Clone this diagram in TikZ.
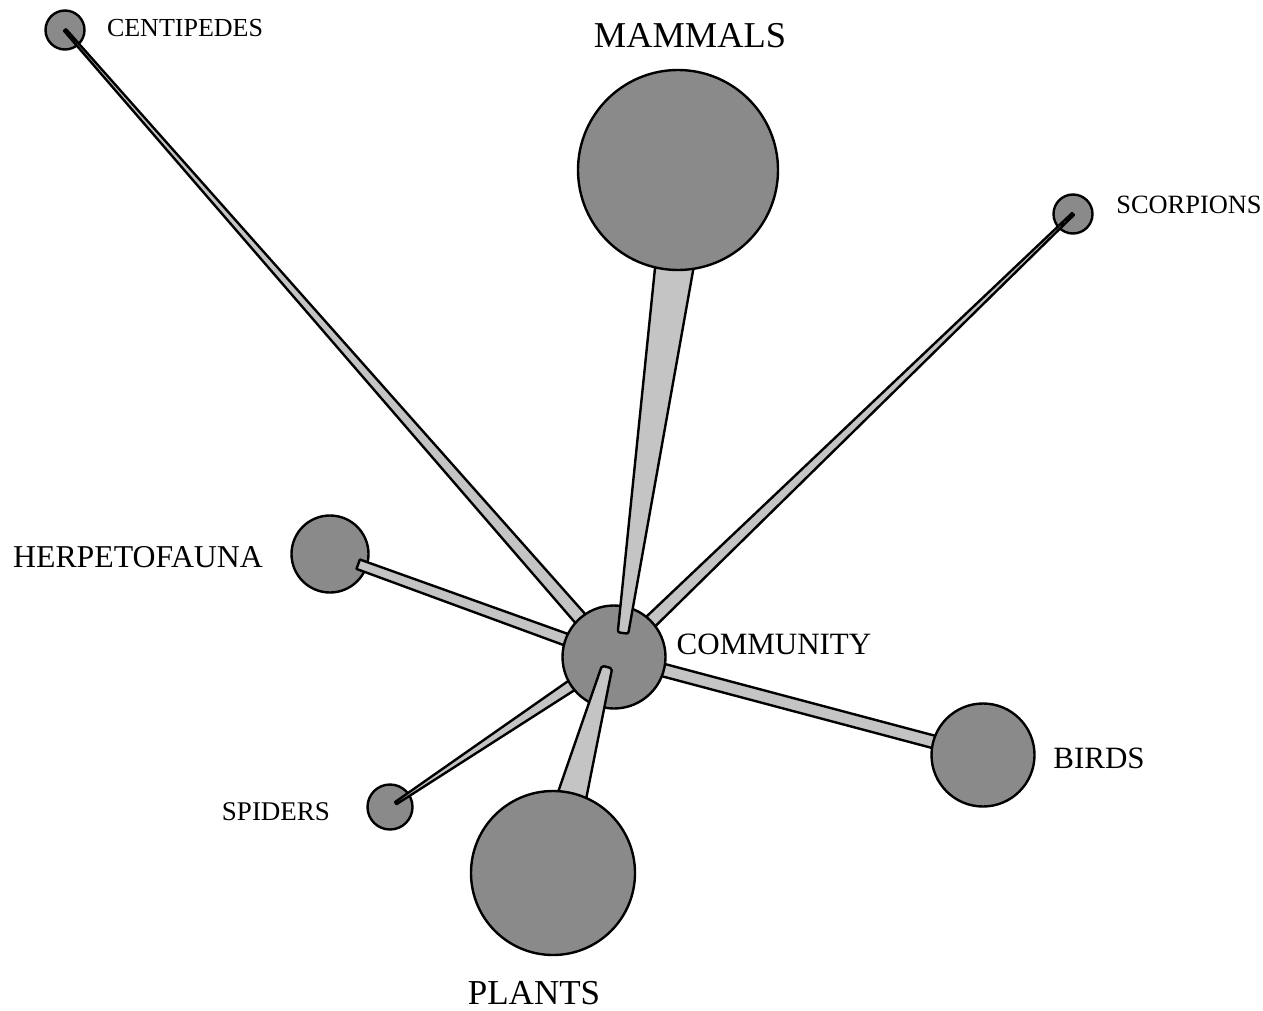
\documentclass[tikz,border=0pt]{standalone}
\usepackage{fontspec}
\setmainfont{Liberation Serif}
\usetikzlibrary{calc}
\definecolor{circfill}{HTML}{8A8A8A}
\definecolor{barfill}{HTML}{C4C4C4}
\pgfdeclarelayer{lower}
\pgfdeclarelayer{barsA}
\pgfdeclarelayer{middle}
\pgfdeclarelayer{barsB}
\pgfsetlayers{lower,barsA,middle,barsB,main}
\tikzset{
  circ/.style={circle, draw=black, line width=2.4pt, fill=circfill, inner sep=0pt},
  barshape/.style={draw=black, line width=2.4pt, fill=barfill, line join=round},
  lbl/.style={inner sep=0pt, text=black},
}
% #2 start, #3 half width at start, #4 end, #5 half width at end
\newcommand\wedgebar[5][]{%
  \filldraw[barshape,#1] ($(#2)!#3!90:(#4)$) -- ($(#4)!#5!-90:(#2)$) -- ($(#4)!#5!90:(#2)$) -- ($(#2)!#3!-90:(#4)$) -- cycle;}
\begin{document}
\begin{tikzpicture}[x=1pt,y=-1pt]
\useasboundingbox (0,0) rectangle (1263,1011);
% circles
\begin{pgfonlayer}{lower}
\node[circ,minimum size=39pt] (cent) at (65,30) {};
\node[circ,minimum size=39pt] (scor) at (1073,214) {};
\node[circ,minimum size=77pt] (herp) at (330,554) {};
\node[circ,minimum size=45pt] (spid) at (390,807) {};
\end{pgfonlayer}
\begin{pgfonlayer}{middle}
\node[circ,minimum size=103pt] (comm) at (614,657) {};
\node[circ,minimum size=103pt] (bird) at (983,755) {};
\end{pgfonlayer}
\node[circ,minimum size=200pt] (mamm) at (678,170) {};
\node[circ,minimum size=164pt] (plan) at (553,873) {};
% bar end points
\coordinate (herpstart) at ($(herp.center)!30pt!(comm.center)$);
\coordinate (spidstart) at ($(spid.center)!7pt!(comm.center)$);
\coordinate (mamfoot) at (623,633);
\coordinate (mamneck) at (675,262);
\coordinate (planfoot) at (607,667);
\coordinate (planneck) at (560,840);
% bars under the community circle
\begin{pgfonlayer}{barsA}
\wedgebar{cent.center}{1.3pt}{comm.center}{7pt}
\wedgebar{scor.center}{1.3pt}{comm.center}{7pt}
\wedgebar{herpstart}{5pt}{comm.center}{6.2pt}
\wedgebar{spidstart}{1.3pt}{comm.center}{6.6pt}
\wedgebar{comm.center}{6.3pt}{bird.center}{6.3pt}
\end{pgfonlayer}
% bars over the community circle
\begin{pgfonlayer}{barsB}
\wedgebar[rounded corners=2pt]{mamfoot}{5.3pt}{mamneck}{19.3pt}
\wedgebar[rounded corners=2pt]{planfoot}{5.3pt}{planneck}{17.6pt}
\end{pgfonlayer}
% labels
\node[lbl,font=\fontsize{26}{30}\selectfont] (tcent) at (185,28) {CENTIPEDES};
\node[lbl,font=\fontsize{36.4}{40}\selectfont] (tmamm) at (690,36) {MAMMALS};
\node[lbl,font=\fontsize{26.4}{30}\selectfont] (tscor) at (1189,205) {SCORPIONS};
\node[lbl,font=\fontsize{31.8}{36}\selectfont] (therp) at (138,557) {HERPETOFAUNA};
\node[lbl,font=\fontsize{31}{36}\selectfont] (tcomm) at (774,644) {COMMUNITY};
\node[lbl,font=\fontsize{31}{36}\selectfont] (tbird) at (1099,758) {BIRDS};
\node[lbl,font=\fontsize{27}{30}\selectfont] (tspid) at (276,812) {SPIDERS};
\node[lbl,font=\fontsize{35}{40}\selectfont] (tplan) at (534,993) {PLANTS};
\end{tikzpicture}
\end{document}
